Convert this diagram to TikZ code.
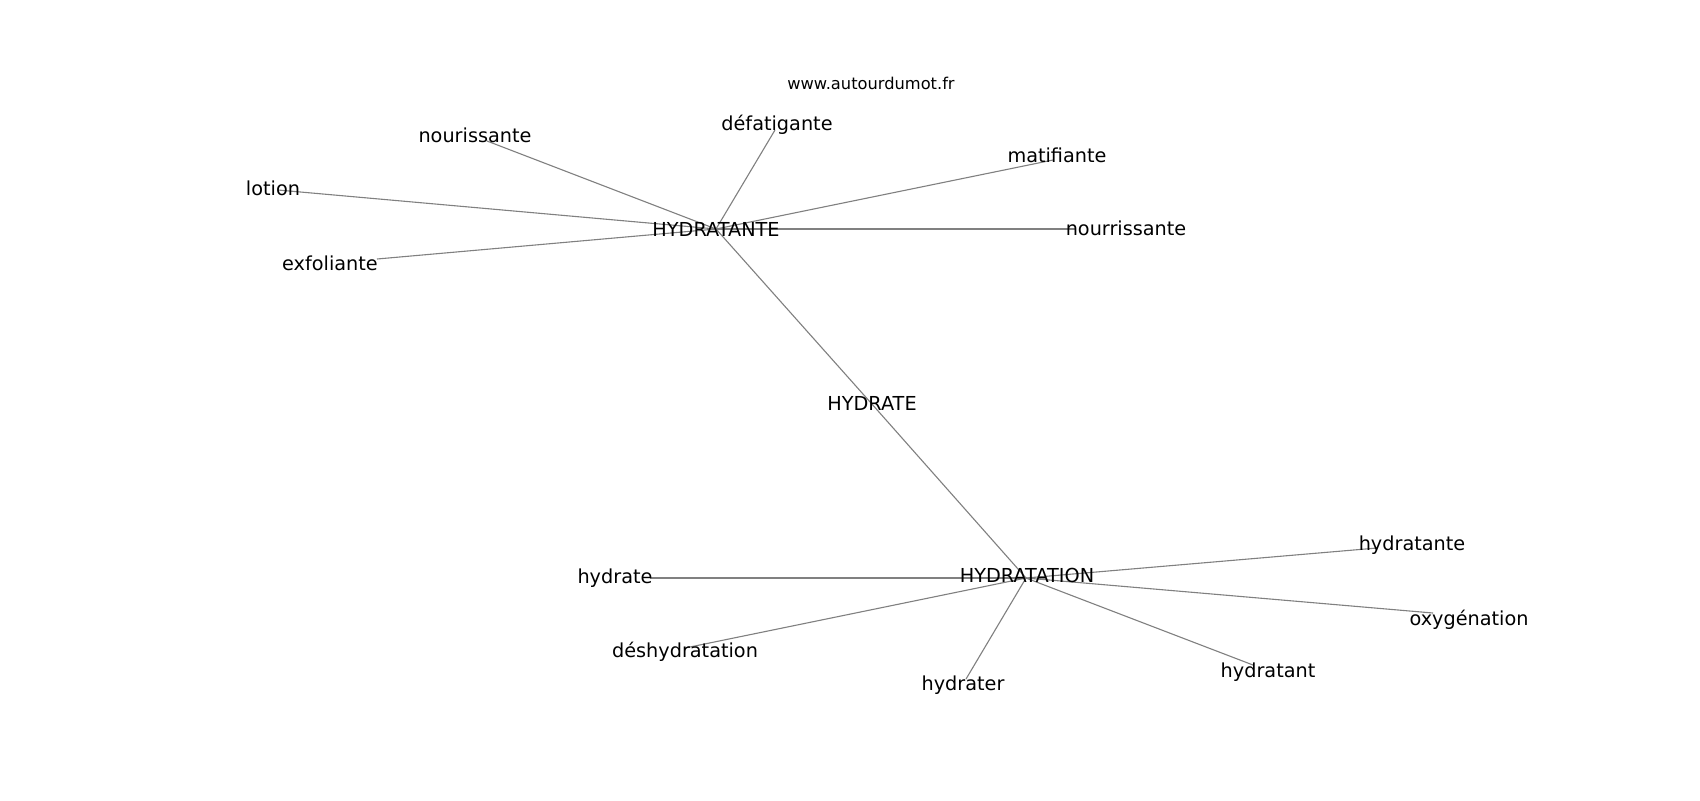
\documentclass[tikz,border=0pt]{standalone}
\usepackage{fontspec}
\setmainfont{DejaVu Sans}
\begin{document}
\begin{tikzpicture}[x=0.5pt,y=-0.5pt,
  word/.style={anchor=base,inner sep=0pt,font=\fontsize{9.63}{11}\selectfont,text=black},
  site/.style={anchor=base,inner sep=0pt,font=\fontsize{8.13}{10}\selectfont,text=black},
  edge/.style={draw=black!50,line width=0.55pt}]
\useasboundingbox[fill=white] (0,0) rectangle (1700,800);
% edge end points
\coordinate (pA) at (716,229);
\coordinate (pB) at (1026,578);
\coordinate (pH) at (871,403);
\coordinate (p1) at (775,130);
\coordinate (p2) at (487,141);
\coordinate (p3) at (1053,160);
\coordinate (p4) at (278,190);
\coordinate (p5) at (1075,229);
\coordinate (p6) at (377,259);
\coordinate (p7) at (1377,548);
\coordinate (p8) at (650,578);
\coordinate (p9) at (1433,613);
\coordinate (p10) at (685,648);
\coordinate (p11) at (1253,665);
\coordinate (p12) at (966,679);
% edges
\foreach \t in {p1,p2,p3,p4,p5,p6} \draw[edge] (pA) -- (\t);
\foreach \t in {p7,p8,p9,p10,p11,p12} \draw[edge] (pB) -- (\t);
\draw[edge] (pA) -- (pH);
\draw[edge] (pH) -- (pB);
% labels
\node[site] (site) at (871,89) {www.autourdumot.fr};
\node[word] (n1) at (777,130) {défatigante};
\node[word] (n2) at (475,142) {nourissante};
\node[word] (n3) at (1057,162) {matifiante};
\node[word] (n4) at (273,195) {lotion};
\node[word] (nA) at (716,236) {HYDRATANTE};
\node[word] (n5) at (1126,235) {nourrissante};
\node[word] (n6) at (330,270) {exfoliante};
\node[word] (nH) at (872,410) {HYDRATE};
\node[word] (n7) at (1412,550) {hydratante};
\node[word] (n8) at (615,583) {hydrate};
\node[word] (nB) at (1027,582) {HYDRATATION};
\node[word] (n9) at (1469,625) {oxygénation};
\node[word] (n10) at (685,657) {déshydratation};
\node[word] (n11) at (1268,677) {hydratant};
\node[word] (n12) at (963,690) {hydrater};
\end{tikzpicture}
\end{document}
